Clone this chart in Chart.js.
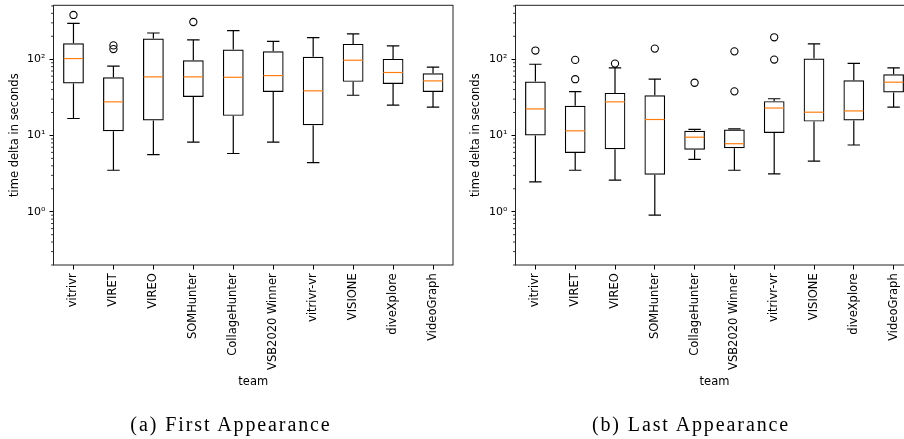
<!DOCTYPE html>
<html>
<head>
<meta charset="utf-8">
<script src="https://cdn.jsdelivr.net/npm/chart.js@4.4.0/dist/chart.umd.min.js"></script>
<style>
  html, body { margin: 0; padding: 0; background: #fff; }
  #page { position: relative; width: 904px; height: 439px; overflow: hidden; }
  .panel { position: absolute; top: 0; }
  .caption {
    position: absolute; top: 414px;
    font-family: "Liberation Serif", serif; font-size: 20px; line-height: 20px;
    letter-spacing: 1.9px; color: #000; white-space: nowrap;
    transform: translateX(-50%);
  }
</style>
</head>
<body>
<div id="page">
  <canvas id="firstChart" class="panel" width="460" height="439" style="left:0"></canvas>
  <canvas id="lastChart" class="panel" width="460" height="439" style="left:460px"></canvas>
  <div class="caption" style="left:231px">(a) First Appearance</div>
  <div class="caption" style="left:691px">(b) Last Appearance</div>
</div>
<script>
const teams = ['vitrivr', 'VIRET', 'VIREO', 'SOMHunter', 'CollageHunter', 'VSB2020 Winner', 'vitrivr-vr', 'VISIONE', 'diveXplore', 'VideoGraph'];

// (a) first appearance, seconds
const firstLow      = [16.7, 3.5, 5.6, 8.2, 5.8, 8.2, 4.4, 33.7, 25, 23.5];
const firstQ1       = [48, 11.4, 15.7, 32, 18.1, 37.3, 13.6, 50.5, 47.5, 37.3];
const firstMedian   = [102, 27.6, 58.7, 58.7, 58, 61, 38.5, 97, 67, 52];
const firstQ3       = [162, 58, 187, 97, 134, 127, 108, 159, 101, 65.6];
const firstHigh     = [296, 81, 221, 179, 238, 172, 192, 215, 150, 79];
const firstOutliers = [[381], [136, 152], [], [308], [], [], [], [], [], []];

// (b) last appearance, seconds
const lastLow      = [2.47, 3.5, 2.6, 0.9, 4.85, 3.5, 3.14, 4.6, 7.5, 23.5];
const lastQ1       = [10, 5.9, 6.6, 3.05, 6.5, 6.8, 10.8, 15.2, 15.7, 36.6];
const lastMedian   = [22.3, 11.5, 27.6, 16.2, 9.5, 7.8, 22.9, 20.2, 21, 50];
const lastQ3       = [51, 24.5, 36.2, 33.7, 11.5, 12, 28.2, 102, 53, 63.6];
const lastHigh     = [86, 37.7, 77, 55, 12, 12.2, 30.3, 159, 88, 77];
const lastOutliers = [[130], [54.7, 98], [87.7], [138], [49.2], [37.9, 127], [99, 194], [], [], []];

const yMin = 0.2;
const yMax = 510;
const yTicks = [1, 10, 100];
const yTickLabels = ['10\u2070', '10\u00b9', '10\u00b2'];

const labelFont = { family: 'DejaVu Sans', size: 11.5 };
const yTickFont = { family: 'DejaVu Sans', size: 11 };

// whiskers, caps, medians, minor log ticks and the frame
const boxPlotPlugin = {
    id: 'boxPlot',
    afterDatasetsDraw(chart, args, opts) {
        const ctx = chart.ctx;
        const xs = chart.scales.x;
        const ys = chart.scales.y;
        const meta = chart.getDatasetMeta(0);
        ctx.save();
        ctx.lineWidth = 1.2;
        opts.low.forEach((lo, i) => {
            const cx = xs.getPixelForValue(i);
            const half = meta.data[i].width / 2;
            const cap = half * 0.6;
            const yLo = ys.getPixelForValue(lo);
            const yHi = ys.getPixelForValue(opts.high[i]);
            ctx.strokeStyle = '#000';
            ctx.beginPath();
            ctx.moveTo(cx, ys.getPixelForValue(opts.q1[i]));
            ctx.lineTo(cx, yLo);
            ctx.moveTo(cx, ys.getPixelForValue(opts.q3[i]));
            ctx.lineTo(cx, yHi);
            ctx.moveTo(cx - cap, yLo);
            ctx.lineTo(cx + cap, yLo);
            ctx.moveTo(cx - cap, yHi);
            ctx.lineTo(cx + cap, yHi);
            ctx.stroke();

            const yMed = ys.getPixelForValue(opts.median[i]);
            ctx.strokeStyle = '#ff7f0e';
            ctx.beginPath();
            ctx.moveTo(cx - half + 0.6, yMed);
            ctx.lineTo(cx + half - 0.6, yMed);
            ctx.stroke();
        });
        ctx.restore();
    },
    afterDraw(chart) {
        const ctx = chart.ctx;
        const area = chart.chartArea;
        const ys = chart.scales.y;
        ctx.save();
        ctx.strokeStyle = '#000';
        ctx.lineWidth = 0.8;
        ctx.beginPath();
        for (let exp = -1; exp <= 2; exp++) {
            for (let m = 2; m <= 9; m++) {
                const v = m * Math.pow(10, exp);
                if (v < yMin || v > yMax) continue;
                const py = ys.getPixelForValue(v);
                ctx.moveTo(area.left - 2.4, py);
                ctx.lineTo(area.left, py);
            }
        }
        ctx.stroke();
        ctx.lineWidth = 1;
        ctx.strokeStyle = '#222';
        ctx.strokeRect(area.left, area.top, area.right - area.left, area.bottom - area.top);
        ctx.restore();
    }
};

function makeBoxChart(canvasId, low, q1, median, q3, high, outliers, padLeft, yWidth, padRight) {
    const ctx = document.getElementById(canvasId).getContext('2d');
    const outlierPoints = [];
    outliers.forEach((vals, i) => {
        vals.forEach(v => outlierPoints.push({ x: teams[i], y: v }));
    });

    return new Chart(ctx, {
        type: 'bar',
        data: {
            labels: teams,
            datasets: [{
                data: teams.map((t, i) => [q1[i], q3[i]]),
                backgroundColor: 'rgba(0,0,0,0)',
                borderColor: '#000',
                borderWidth: 1.2,
                borderSkipped: false,
                barPercentage: 0.52,
                categoryPercentage: 1.0
            }, {
                type: 'scatter',
                data: outlierPoints,
                pointRadius: 3.6,
                pointBorderWidth: 1.1,
                borderColor: '#000',
                backgroundColor: 'rgba(0,0,0,0)'
            }]
        },
        options: {
            responsive: false,
            animation: false,
            layout: { padding: { left: padLeft, right: padRight, top: 5.3, bottom: 50 } },
            plugins: {
                legend: { display: false },
                tooltip: { enabled: false },
                boxPlot: { low, q1, median, q3, high }
            },
            scales: {
                x: {
                    type: 'category',
                    labels: teams,
                    offset: true,
                    afterFit: s => {
                        s.height = 124;
                        s.paddingLeft = 0;
                        s.paddingRight = 0;
                    },
                    grid: { display: true, offset: false, drawOnChartArea: false, tickLength: 4.5, color: '#000' },
                    border: { display: false },
                    ticks: { minRotation: 90, maxRotation: 90, autoSkip: false, padding: 3.8, color: '#000', font: labelFont },
                    title: { display: true, text: 'team', color: '#000', font: labelFont, padding: { top: 0, bottom: 0 } }
                },
                y: {
                    type: 'logarithmic',
                    min: yMin,
                    max: yMax,
                    afterBuildTicks: s => { s.ticks = yTicks.map(v => ({ value: v, major: true })); },
                    afterFit: s => {
                        s.width = yWidth;
                        s.paddingTop = 0;
                        s.paddingBottom = 0;
                    },
                    grid: { display: true, drawOnChartArea: false, tickLength: 4, color: '#000' },
                    border: { display: false },
                    ticks: {
                        padding: 4,
                        color: '#000',
                        font: yTickFont,
                        callback: (v, i) => yTickLabels[i]
                    },
                    title: { display: true, text: 'time delta in seconds', color: '#000', font: labelFont, padding: { top: 0, bottom: 0 } }
                }
            }
        },
        plugins: [boxPlotPlugin]
    });
}

makeBoxChart('firstChart', firstLow, firstQ1, firstMedian, firstQ3, firstHigh, firstOutliers, 8.4, 45.1, 7);
makeBoxChart('lastChart', lastLow, lastQ1, lastMedian, lastQ3, lastHigh, lastOutliers, 9.4, 46.1, 6.5);
</script>
</body>
</html>
